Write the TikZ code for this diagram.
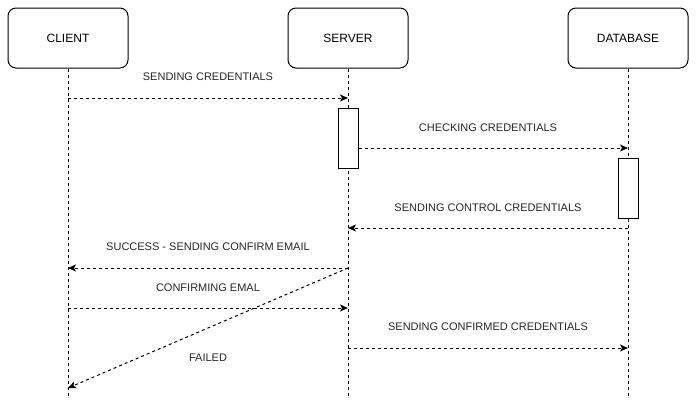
\documentclass[tikz,border=0pt]{standalone}
\usepackage{fontspec}
\setmainfont{Liberation Sans}
\usetikzlibrary{arrows.meta}

\tikzset{
  actor/.style={draw, line width=1pt, rounded corners=8pt, minimum width=120pt,
    minimum height=60pt, font=\fontsize{12}{14}\selectfont},
  lifeline/.style={line width=1pt, dash pattern=on 3pt off 3pt},
  activation/.style={draw, line width=1pt, fill=white, minimum width=20pt,
    minimum height=60pt, inner sep=0pt},
  msg/.style={lifeline, -{Stealth[length=8pt, width=7pt, inset=2pt]}},
  msglabel/.style={font=\fontsize{11}{13}\selectfont, text=black!85}
}

\begin{document}
\begin{tikzpicture}[x=1pt, y=-1pt]
\useasboundingbox (0,0) rectangle (697,408);

% participants
\node[actor] (client) at (68,38) {CLIENT};
\node[actor] (server) at (348,38) {SERVER};
\node[actor] (database) at (628,38) {DATABASE};

% lifelines
\coordinate (client end) at (68,398);
\coordinate (server end) at (348,398);
\coordinate (database end) at (628,398);
\draw[lifeline] (client.south) -- (client end);
\draw[lifeline] (server.south) -- (server end);
\draw[lifeline] (database.south) -- (database end);

% activations
\node[activation] (server act) at (348,138) {};
\node[activation] (database act) at (628,188) {};

% message points
\coordinate (c1) at (68,98);   \coordinate (s1) at (348,98);
\coordinate (d2) at (628,148);
\coordinate (d3) at (628,228); \coordinate (s3) at (348,228);
\coordinate (s4) at (348,268); \coordinate (c4) at (68,268);
\coordinate (c5) at (68,308);  \coordinate (s5) at (348,308);
\coordinate (s6) at (348,348); \coordinate (d6) at (628,348);
\coordinate (c7) at (68,388);

% messages
\draw[msg] (c1) -- (s1);
\node[msglabel] (m1) at (208,77) {SENDING CREDENTIALS};

\draw[msg] (server act.east |- d2) -- (d2);
\node[msglabel] (m2) at (488,128) {CHECKING CREDENTIALS};

\draw[msg] (d3) -- (s3);
\node[msglabel] (m3) at (488,208) {SENDING CONTROL CREDENTIALS};

\draw[msg] (s4) -- (c4);
\node[msglabel] (m4) at (208,247) {SUCCESS - SENDING CONFIRM EMAIL};

\draw[msg] (c5) -- (s5);
\node[msglabel] (m5) at (208,288) {CONFIRMING EMAL};

\draw[msg] (s6) -- (d6);
\node[msglabel] (m6) at (488,327) {SENDING CONFIRMED CREDENTIALS};

\draw[msg] (s4) -- (c7);
\node[msglabel] (m7) at (208,358) {FAILED};

\end{tikzpicture}
\end{document}
